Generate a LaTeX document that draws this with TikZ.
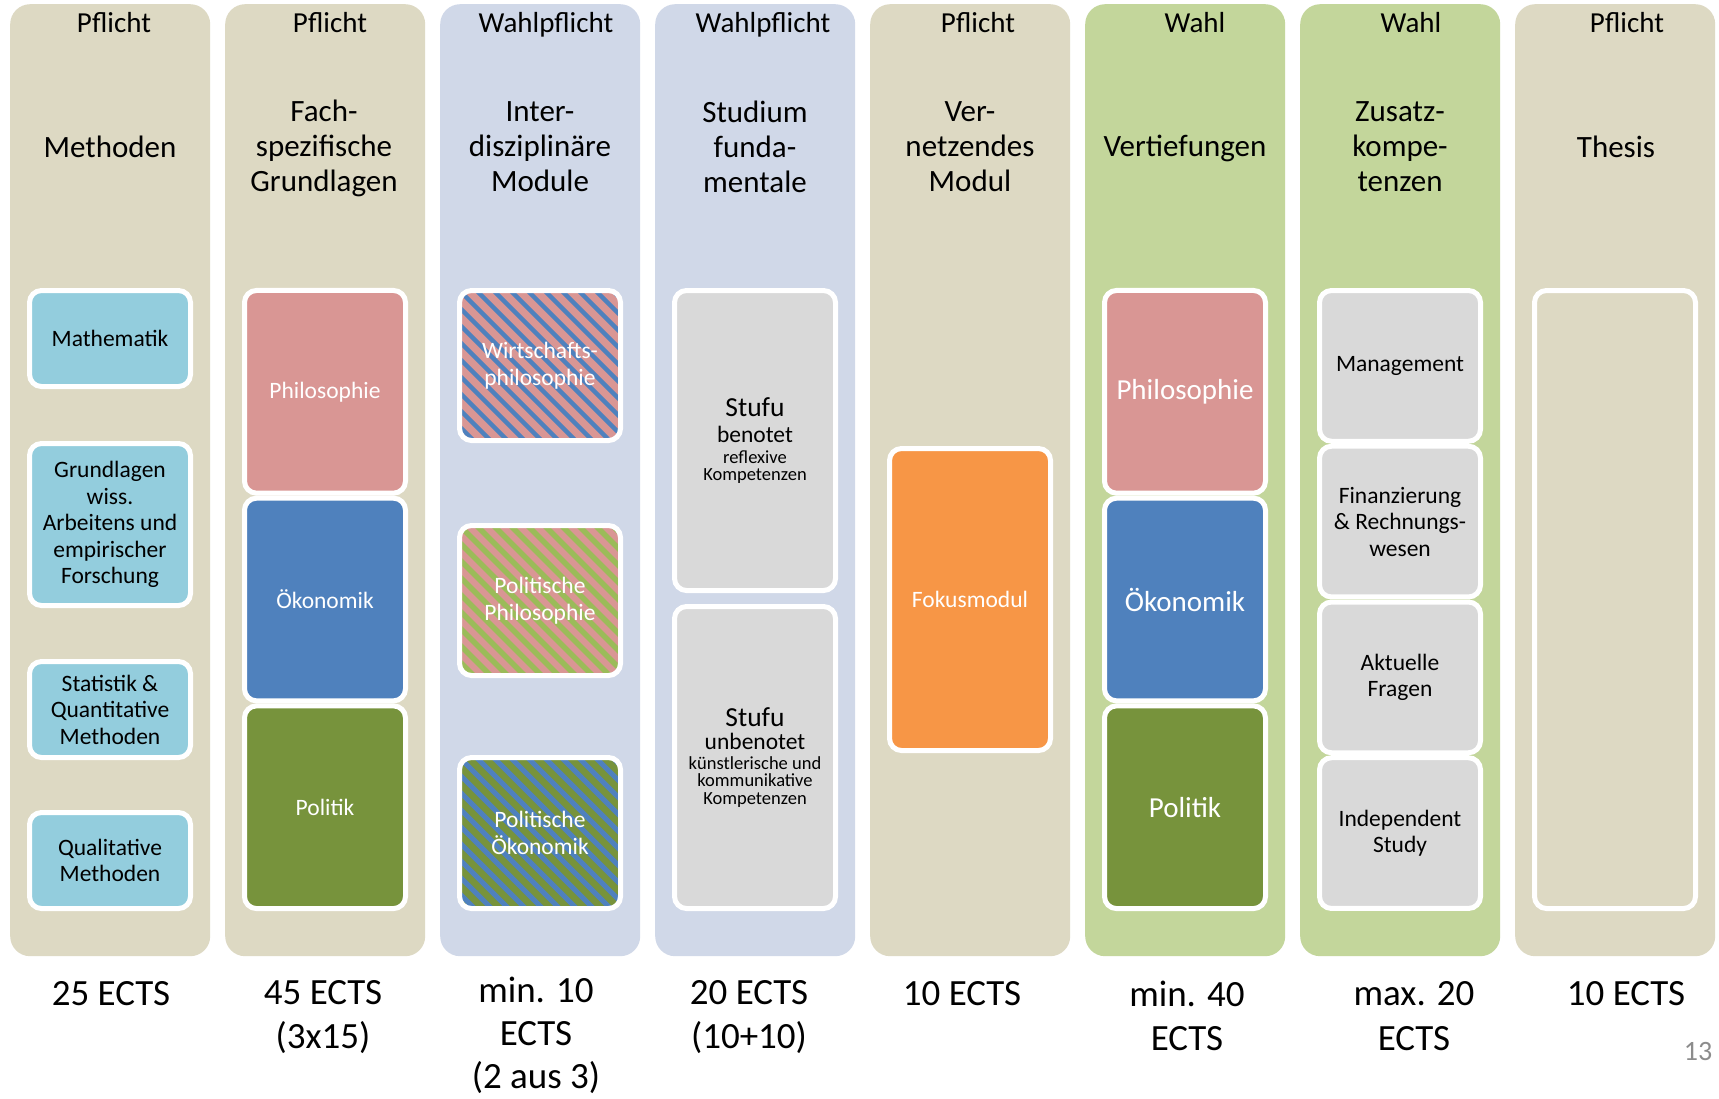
\documentclass[tikz,border=0pt]{standalone}
\usepackage{fontspec}
\setmainfont{Carlito}
\definecolor{tanc}{HTML}{DDD9C3}
\definecolor{wpc}{HTML}{D0D8E8}
\definecolor{wahlc}{HTML}{C3D69B}
\definecolor{cyanc}{HTML}{93CDDD}
\definecolor{pinkc}{HTML}{D99694}
\definecolor{bluec}{HTML}{4F81BD}
\definecolor{greenc}{HTML}{77933C}
\definecolor{lgreenc}{HTML}{9BBB59}
\definecolor{orangec}{HTML}{F79646}
\definecolor{grayc}{HTML}{D9D9D9}
\definecolor{numc}{HTML}{8C8C8C}
\begin{document}
\begin{tikzpicture}[x=1pt,y=-1pt,
  column/.style={rounded corners=20pt, minimum width=200pt, minimum height=952pt, anchor=north west, inner sep=0pt},
  hdr/.style={font=\fontsize{29}{35}\selectfont, inner sep=0pt, anchor=base},
  ttl/.style={font=\fontsize{31}{35}\selectfont, align=center, inner sep=0pt},
  ects/.style={font=\fontsize{37}{44.5}\selectfont, align=center, inner sep=0pt},
  mod/.style={draw=white, line width=5pt, rounded corners=12pt, minimum width=161pt, inner sep=1pt, align=center, font=\fontsize{23.5}{26.5}\selectfont},
  bigmod/.style={mod, font=\fontsize{29}{35}\selectfont},
  stripes/.style n args={3}{path picture={
      \fill[#1] (path picture bounding box.south west) rectangle (path picture bounding box.north east);
      \foreach \k in {-204,-187,...,187}
        \draw[#2, line width=#3, rounded corners=0pt] ([xshift=\k pt]path picture bounding box.north west) -- ++(220pt,-220pt);
    }},
]
\newcommand\smtxt[1]{{\fontsize{18.5}{20}\selectfont #1}}
\useasboundingbox (0,0) rectangle (1719,1098);
\fill[white] (0,0) rectangle (1719,1098);

% columns
\node[column, fill=tanc]  (c1) at (10,4)   {};
\node[column, fill=tanc]  (c2) at (225,4)  {};
\node[column, fill=wpc]   (c3) at (440,4)  {};
\node[column, fill=wpc]   (c4) at (655,4)  {};
\node[column, fill=tanc]  (c5) at (870,4)  {};
\node[column, fill=wahlc] (c6) at (1085,4) {};
\node[column, fill=wahlc] (c7) at (1300,4) {};
\node[column, fill=tanc]  (c8) at (1515,4) {};

% headers
\node[hdr] (h1) at (114,32)  {Pflicht};
\node[hdr] (h2) at (330,32)  {Pflicht};
\node[hdr] (h3) at (546,32)  {Wahlpflicht};
\node[hdr] (h4) at (763,32)  {Wahlpflicht};
\node[hdr] (h5) at (978,32)  {Pflicht};
\node[hdr] (h6) at (1195,32) {Wahl};
\node[hdr] (h7) at (1411,32) {Wahl};
\node[hdr] (h8) at (1627,32) {Pflicht};

% titles
\node[ttl] (t1) at (110,147)  {Methoden};
\node[ttl] (t2) at (324,148)  {Fach-\\spezifische\\Grundlagen};
\node[ttl] (t3) at (540,147)  {Inter-\\disziplinäre\\Module};
\node[ttl] (t4) at (755,147)  {Studium\\funda-\\mentale};
\node[ttl] (t5) at (970,147)  {Ver-\\netzendes\\Modul};
\node[ttl] (t6) at (1185,148) {Vertiefungen};
\node[ttl] (t7) at (1400,147) {Zusatz-\\kompe-\\tenzen};
\node[ttl] (t8) at (1616,147) {Thesis};

% column 1
\node[mod, fill=cyanc, minimum height=96pt]  (m11) at (110,338.5) {Mathematik};
\node[mod, fill=cyanc, minimum height=162pt] (m12) at (110,524.5) {Grundlagen\\wiss.\\Arbeitens und\\empirischer\\Forschung};
\node[mod, fill=cyanc, minimum height=96pt]  (m13) at (110,709.5) {Statistik \&\\Quantitative\\Methoden};
\node[mod, fill=cyanc, minimum height=96pt]  (m14) at (110,860.5) {Qualitative\\Methoden};

% column 2
\node[mod, fill=pinkc,  text=white, minimum height=202.7pt] (m21) at (325,391.8) {Philosophie};
\node[mod, fill=bluec,  text=white, minimum height=202.7pt] (m22) at (325,599.5) {Ökonomik};
\node[mod, fill=greenc, text=white, minimum height=202.7pt] (m23) at (325,807.2) {Politik};

% column 3
\node[mod, text=white, minimum height=150pt, stripes={pinkc}{bluec}{4.5pt}]    (m31) at (540,365.5) {Wirtschafts-\\philosophie};
\node[mod, text=white, minimum height=150pt, stripes={pinkc}{lgreenc}{5.5pt}]  (m32) at (540,600.5) {Politische\\Philosophie};
\node[mod, text=white, minimum height=151pt, stripes={greenc}{bluec}{5pt}]     (m33) at (540,833)   {Politische\\Ökonomik};

% column 4
\node[mod, fill=grayc, minimum height=300pt] (m41) at (755,440.5)
  {\fontsize{27.5}{30}\selectfont Stufu\\benotet\\[-6pt]\smtxt{reflexive}\\[-9pt]\smtxt{Kompetenzen}};
\node[mod, fill=grayc, minimum height=302pt] (m42) at (755,757.5)
  {\fontsize{27.5}{30}\selectfont Stufu\\[-3pt]unbenotet\\[-7pt]\smtxt{künstlerische und}\\[-9pt]\smtxt{kommunikative}\\[-9pt]\smtxt{Kompetenzen}};

% column 5
\node[mod, fill=orangec, text=white, minimum height=302pt] (m51) at (970,599.5) {Fokusmodul};

% column 6
\node[bigmod, fill=pinkc,  text=white, minimum height=202.7pt] (m61) at (1185,391.8) {Philosophie};
\node[bigmod, fill=bluec,  text=white, minimum height=202.7pt] (m62) at (1185,599.5) {Ökonomik};
\node[bigmod, fill=greenc, text=white, minimum height=202.7pt] (m63) at (1185,807.2) {Politik};

% column 7
\node[mod, fill=grayc, minimum height=150.75pt] (m71) at (1400,365.9) {Management};
\node[mod, fill=grayc, minimum height=150.75pt] (m72) at (1400,521.6) {Finanzierung\\\& Rechnungs-\\wesen};
\node[mod, fill=grayc, minimum height=150.75pt] (m73) at (1400,677.4) {Aktuelle\\Fragen};
\node[mod, fill=grayc, minimum height=150.75pt] (m74) at (1400,833.1) {Independent\\Study};

% column 8
\node[mod, fill=tanc, minimum height=618pt] (m81) at (1615,599.5) {};

% ECTS
\node[ects] (e1) at (111,994)   {25 ECTS};
\node[ects] (e2) at (323,1017)  {45 ECTS\\(3x15)};
\node[ects, font=\fontsize{37}{43}\selectfont] (e3) at (536,1035)  {min. 10\\ECTS\\(2 aus 3)};
\node[ects] (e4) at (749,1017)  {20 ECTS\\(10+10)};
\node[ects] (e5) at (962,994)   {10 ECTS};
\node[ects] (e6) at (1187,1016) {min. 40\\ECTS};
\node[ects] (e7) at (1414,1016) {max. 20\\ECTS};
\node[ects] (e8) at (1626,994)  {10 ECTS};

\node[font=\fontsize{28}{33}\selectfont, text=numc, inner sep=0pt] (pg) at (1698,1051) {13};
\end{tikzpicture}
\end{document}
